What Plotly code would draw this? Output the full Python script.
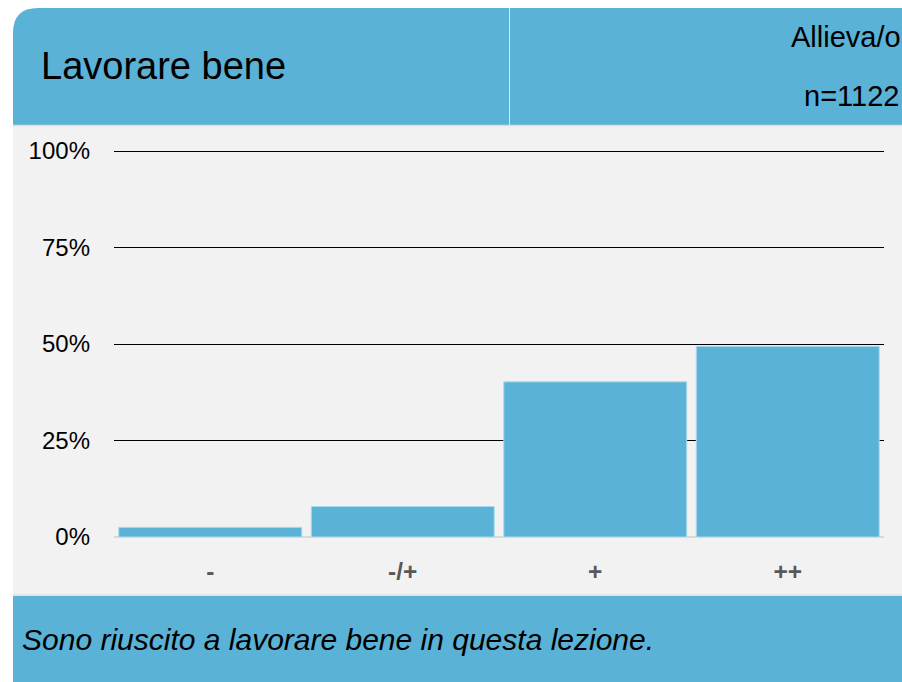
import plotly.graph_objects as go

categories = ["-", "-/+", "+", "++"]
values = [2.5, 7.9, 40.2, 49.4]
y_ticks = [0, 25, 50, 75, 100]
y_tick_labels = ["0%", "25%", "50%", "75%", "100%"]
title_text = "Lavorare bene"
group_text = "Allieva/o"
n_text = "n=1122"
question_text = "Sono riuscito a lavorare bene in questa lezione."

W, H = 902, 682
BLUE = "#5AB2D6"
FONT = "Liberation Sans, Arial, sans-serif"


def px(x):
    return x / W


def py(y):
    return 1 - y / H


fig = go.Figure()
fig.add_trace(go.Bar(
    x=categories, y=values,
    marker=dict(color=BLUE, line=dict(color="#a9d9ec", width=1)),
    hoverinfo="skip",
))

shapes = []
r = 25
path = (f"M {px(13)},{py(125)} L {px(13)},{py(8 + r)} "
        f"Q {px(13)},{py(8)} {px(13 + r)},{py(8)} "
        f"L {px(905)},{py(8)} L {px(905)},{py(125)} Z")
shapes.append(dict(type="path", path=path, xref="paper", yref="paper",
                   fillcolor=BLUE, line=dict(width=0), layer="below"))
shapes.append(dict(type="line", xref="paper", yref="paper",
                   x0=px(509.5), x1=px(509.5), y0=py(8), y1=py(125),
                   line=dict(color="#cfeaf5", width=1), layer="below"))
shapes.append(dict(type="rect", xref="paper", yref="paper",
                   x0=px(13), x1=px(905), y0=py(595), y1=py(125),
                   fillcolor="#F2F2F2", line=dict(width=0), layer="below"))
shapes.append(dict(type="line", xref="paper", yref="paper",
                   x0=px(13), x1=px(905), y0=py(125.5), y1=py(125.5),
                   line=dict(color="#dddddd", width=1.5), layer="below"))
shapes.append(dict(type="line", xref="paper", yref="paper",
                   x0=px(13), x1=px(905), y0=py(595), y1=py(595),
                   line=dict(color="#dddddd", width=1.5), layer="below"))
shapes.append(dict(type="rect", xref="paper", yref="paper",
                   x0=px(13), x1=px(905), y0=py(685), y1=py(596),
                   fillcolor=BLUE, line=dict(width=0), layer="below"))

annotations = [
    dict(text=title_text, x=px(39), y=py(66), xref="paper", yref="paper",
         xanchor="left", yanchor="middle", showarrow=False,
         font=dict(family=FONT, size=38, color="#000000")),
    dict(text=group_text, x=px(789), y=py(37), xref="paper", yref="paper",
         xanchor="left", yanchor="middle", showarrow=False,
         font=dict(family=FONT, size=29, color="#000000")),
    dict(text=n_text, x=px(802), y=py(96), xref="paper", yref="paper",
         xanchor="left", yanchor="middle", showarrow=False,
         font=dict(family=FONT, size=29, color="#000000")),
    dict(text="<i>" + question_text + "</i>", x=px(20), y=py(639),
         xref="paper", yref="paper", xanchor="left", yanchor="middle",
         showarrow=False, font=dict(family=FONT, size=30, color="#000000")),
]

# y range slightly above 100 so the 100% gridline is drawn inside the plot
y_top = 101
y_px0, y_px100 = 537, 151
y_px_top = y_px100 - (y_top - 100) * (y_px0 - y_px100) / 100

fig.update_layout(
    width=W, height=H,
    margin=dict(l=0, r=0, t=0, b=0, pad=0, autoexpand=False),
    paper_bgcolor="white",
    plot_bgcolor="rgba(0,0,0,0)",
    showlegend=False,
    bargap=0.05,
    shapes=shapes,
    annotations=annotations,
    xaxis=dict(domain=[px(114), px(884)], range=[-0.5, 3.5],
               showgrid=False, showline=False, zeroline=False,
               automargin=False,
               tickfont=dict(family=FONT, size=24.5, color="#595959", weight="bold"),
               ticklabelstandoff=17, fixedrange=True),
    yaxis=dict(domain=[py(y_px0), py(y_px_top)], range=[0, y_top],
               tickvals=y_ticks, ticktext=y_tick_labels,
               showgrid=True, gridcolor="#000000", gridwidth=1,
               zeroline=True, zerolinecolor="#d9d9d9", zerolinewidth=2,
               showline=False, automargin=False,
               tickfont=dict(family=FONT, size=24, color="#000000"),
               ticklabelstandoff=23, fixedrange=True),
)

fig.write_html(
    "out.html",
    config={"displayModeBar": False},
    post_script="document.body.style.margin='0';document.body.style.overflow='hidden';",
)
